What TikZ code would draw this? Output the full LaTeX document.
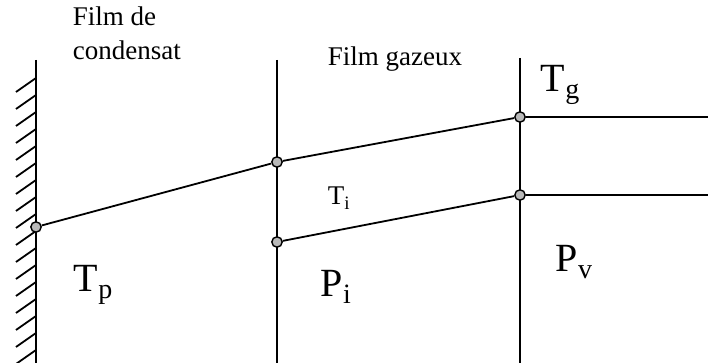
\documentclass[tikz,border=0pt]{standalone}
\usepackage{fontspec}
\setmainfont{Liberation Serif}
\begin{document}
\begin{tikzpicture}[x=0.5pt,y=-0.5pt,line width=0.9pt,
    pnt/.style={circle,draw,fill=gray!55,inner sep=0pt,minimum size=5.2pt,line width=0.7pt},
    txt/.style={inner sep=0pt,font=\fontsize{13.5}{17}\selectfont},
    sym/.style={inner sep=0pt,font=\fontsize{20}{24}\selectfont}]
    \useasboundingbox (0,0) rectangle (708,363);
    % parois et films
    \coordinate (W0) at (36,60);   \coordinate (W1) at (36,363);
    \coordinate (I0) at (277,60);  \coordinate (I1) at (277,363);
    \coordinate (G0) at (520,58);  \coordinate (G1) at (520,363);
    \draw (W0)--(W1) (I0)--(I1) (G0)--(G1);
    \foreach \y in {78,95,...,363}
        \draw (36,\y)--++(-20,14);
    % points
    \node[pnt] (Tp) at (36,227) {};
    \node[pnt] (Ti) at (277,162) {};
    \node[pnt] (Tg) at (520,117) {};
    \node[pnt] (Pi) at (277,242) {};
    \node[pnt] (Pv) at (520,195) {};
    \coordinate (TgE) at (708,117);
    \coordinate (PvE) at (708,195);
    \draw (Tp)--(Ti)--(Tg)--(TgE);
    \draw (Pi)--(Pv)--(PvE);
    % textes
    \node[txt,anchor=base west,align=left] (fc) at (72,60) {Film de\\condensat};
    \node[txt,anchor=base west] (fg) at (327,66) {Film gazeux};
    \node[sym,anchor=base west] (lTg) at (540,92) {T\textsubscript{g}};
    \node[txt,anchor=base west] (lTi) at (327,205) {T\textsubscript{i}};
    \node[sym,anchor=base west] (lPi) at (320,297) {P\textsubscript{i}};
    \node[sym,anchor=base west] (lPv) at (555,272) {P\textsubscript{v}};
    \node[sym,anchor=base west] (lTp) at (73,292) {T\textsubscript{p}};
\end{tikzpicture}
\end{document}
